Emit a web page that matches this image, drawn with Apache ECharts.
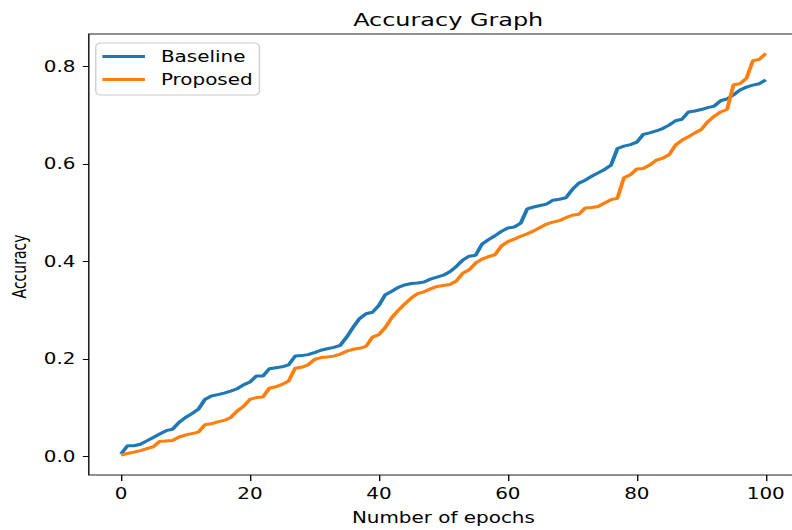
<!DOCTYPE html>
<html>
<head>
<meta charset="utf-8">
<title>Accuracy Graph</title>
<script src="https://cdn.jsdelivr.net/npm/echarts@6/dist/echarts.min.js"></script>
<style>
  html, body { margin: 0; padding: 0; background: #fff; overflow: hidden; }
  /* the reference picture is stretched sideways (~1.33x) and its right spine is cropped off,
     so the chart is drawn narrower and widened with a transform */
  #chart {
    width: 600px;
    height: 530px;
    transform: scaleX(1.33);
    transform-origin: 0 0;
  }
</style>
</head>
<body>
<div id="chart"></div>
<script>
const epochs = Array.from({ length: 101 }, (_, i) => i)

const baseline = [
  0.005, 0.022, 0.022, 0.025, 0.032, 0.039, 0.046, 0.053, 0.056, 0.070,
  0.080, 0.088, 0.097, 0.117, 0.124, 0.127, 0.130, 0.134, 0.139, 0.147,
  0.153, 0.165, 0.165, 0.180, 0.182, 0.184, 0.188, 0.206, 0.207, 0.209,
  0.213, 0.218, 0.221, 0.224, 0.228, 0.245, 0.265, 0.283, 0.293, 0.296,
  0.310, 0.332, 0.339, 0.347, 0.352, 0.355, 0.356, 0.358, 0.364, 0.368,
  0.372, 0.379, 0.390, 0.403, 0.411, 0.413, 0.436, 0.445, 0.453, 0.462,
  0.469, 0.471, 0.479, 0.508, 0.512, 0.515, 0.518, 0.526, 0.528, 0.531,
  0.548, 0.561, 0.567, 0.575, 0.582, 0.589, 0.598, 0.632, 0.637, 0.640,
  0.645, 0.661, 0.664, 0.668, 0.673, 0.680, 0.689, 0.692, 0.707, 0.709,
  0.712, 0.716, 0.719, 0.730, 0.734, 0.742, 0.752, 0.758, 0.762, 0.765,
  0.773
]

const proposed = [
  0.003, 0.006, 0.009, 0.012, 0.016, 0.020, 0.031, 0.032, 0.033, 0.040,
  0.044, 0.047, 0.050, 0.065, 0.067, 0.071, 0.074, 0.080, 0.093, 0.103,
  0.117, 0.121, 0.122, 0.140, 0.143, 0.148, 0.155, 0.181, 0.183, 0.188,
  0.199, 0.203, 0.204, 0.206, 0.210, 0.216, 0.220, 0.222, 0.226, 0.245,
  0.250, 0.265, 0.285, 0.300, 0.313, 0.325, 0.334, 0.338, 0.344, 0.349,
  0.351, 0.353, 0.360, 0.376, 0.383, 0.397, 0.405, 0.410, 0.414, 0.432,
  0.441, 0.446, 0.452, 0.457, 0.463, 0.470, 0.477, 0.481, 0.484, 0.490,
  0.495, 0.497, 0.510, 0.511, 0.513, 0.520, 0.527, 0.530, 0.572, 0.578,
  0.590, 0.591, 0.598, 0.608, 0.612, 0.619, 0.639, 0.649, 0.656, 0.664,
  0.671, 0.687, 0.698, 0.707, 0.712, 0.763, 0.765, 0.776, 0.812, 0.815,
  0.827
]

const xTicks = [0, 20, 40, 60, 80, 100]
const yTicks = [0, 0.2, 0.4, 0.6, 0.8]

const font = 'DejaVu Sans'
const chart = echarts.init(document.getElementById('chart'), null, { renderer: 'svg' })

const option = {
  animation: false,
  backgroundColor: '#fff',
  title: {
    text: 'Accuracy Graph',
    left: 332,
    top: 6,
    textAlign: 'center',
    textStyle: { fontFamily: font, fontSize: 18, fontWeight: 'normal', color: '#000' }
  },
  legend: {
    orient: 'vertical',
    left: 72,
    top: 43,
    padding: [6, 5, 8, 5],
    itemGap: 8,
    itemWidth: 32,
    itemHeight: 3,
    icon: 'rect',
    backgroundColor: '#fff',
    borderColor: '#cccccc',
    borderWidth: 1,
    borderRadius: 4,
    textStyle: { fontFamily: font, fontSize: 15, color: '#000', padding: [0, 0, 0, 7] },
    data: ['Baseline', 'Proposed']
  },
  grid: {
    left: 65,
    top: 34,
    width: 535,
    bottom: 53,
    show: true,
    borderColor: '#222',
    borderWidth: 1.2,
    backgroundColor: 'transparent'
  },
  xAxis: {
    type: 'value',
    min: -5,
    max: 105,
    name: 'Number of epochs',
    nameLocation: 'middle',
    nameGap: 35,
    nameTextStyle: { fontFamily: font, fontSize: 15, color: '#000' },
    axisLine: { show: false, onZero: false },
    splitLine: { show: false },
    axisTick: { show: true, inside: false, length: 6, customValues: xTicks, lineStyle: { color: '#000' } },
    axisLabel: {
      margin: 11,
      fontFamily: font, fontSize: 15, color: '#000',
      customValues: xTicks,
      formatter: v => String(v)
    }
  },
  yAxis: {
    type: 'value',
    min: -0.038,
    max: 0.867,
    name: 'Accuracy',
    nameLocation: 'middle',
    nameGap: 41,
    nameTextStyle: { fontFamily: font, fontSize: 14, color: '#000', padding: [0, 24, 0, 0] },
    axisLine: { show: false, onZero: false },
    splitLine: { show: false },
    axisTick: { show: true, inside: false, length: 4.5, customValues: yTicks, lineStyle: { color: '#000' } },
    axisLabel: {
      margin: 10,
      fontFamily: font, fontSize: 15, color: '#000',
      customValues: yTicks,
      formatter: v => v.toFixed(1)
    }
  },
  series: [
    {
      name: 'Baseline',
      type: 'line',
      data: epochs.map((e, i) => [e, baseline[i]]),
      symbol: 'none',
      lineStyle: { color: '#1f77b4', width: 3 },
      itemStyle: { color: '#1f77b4' }
    },
    {
      name: 'Proposed',
      type: 'line',
      data: epochs.map((e, i) => [e, proposed[i]]),
      symbol: 'none',
      lineStyle: { color: '#ff7f0e', width: 3 },
      itemStyle: { color: '#ff7f0e' }
    }
  ]
}

chart.setOption(option)
</script>
</body>
</html>
